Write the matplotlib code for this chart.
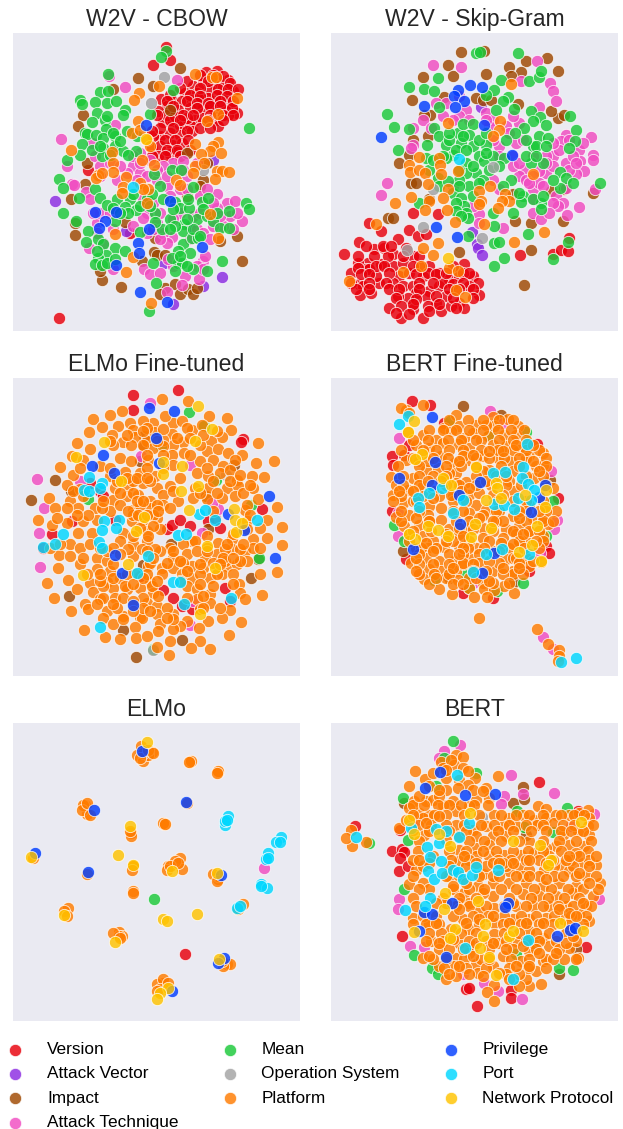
import matplotlib
matplotlib.use('Agg')
import matplotlib.pyplot as plt

plt.rcParams['font.family'] = ['Liberation Sans', 'DejaVu Sans']

CATEGORIES = ['Version', 'Attack Vector', 'Impact', 'Attack Technique', 'Mean',
              'Operation System', 'Platform', 'Privilege', 'Port', 'Network Protocol']
COLORS = ['#e8000b', '#8b2be2', '#9f4800', '#f14cc1', '#1ac938',
          '#a3a3a3', '#ff7c00', '#023eff', '#00d7ff', '#ffc400']
TITLES = ['W2V - CBOW', 'W2V - Skip-Gram', 'ELMo Fine-tuned', 'BERT Fine-tuned', 'ELMo', 'BERT']

# all points, in x/y units of a 3x crop of each panel
cbow_version = [(497,143),(509,182),(459,196),(652,215),(619,218),(685,240),(655,235),(580,258),(610,250),(640,250),(670,262),(700,275),(555,280),(590,280),(630,272),(665,290),(482,298),(515,300),(545,305),(575,300),(610,300),(640,305),(690,310),(710,340),(675,330),(645,330),(610,325),(570,325),(535,330),(500,320),(475,335),(490,368),(520,365),(555,375),(585,360),(605,355),(650,360),(685,345),(655,380),(540,375),(570,375),(480,410),(510,400),(540,405),(575,395),(460,410),(455,445),(480,440),(515,435),(545,430),(475,468),(510,462),(530,458),(560,355),(500,345),(525,350),(550,345),(625,295),(595,295),(265,512),(390,700),(177,955),
 (600,225),(640,225),(670,228),(560,245),(625,245),(690,250),(540,265),(600,265),(655,268),(685,268),(715,268),(510,285),(570,285),(600,288),(650,285),(680,288),(500,305),(560,305),(590,310),(625,310),(660,305),(700,305),(520,320),(590,325),(630,320),(660,320),(695,325),(470,345),(580,345),(630,345),(670,345),(700,345),(510,360),(540,360),(625,360),(670,360),(480,385),(520,385),(600,385),(630,385),(455,395),(560,395),(495,420),(525,420),(565,420),(500,450),(530,450),(570,450),(455,470),(495,470),(540,470)]
cbow_vector = [(166,605),(640,480),(377,695),(491,790),(610,860),(666,833),(518,913),(570,680)]
cbow_impact = [(541,205),(413,236),(340,268),(460,258),(250,347),(233,378),(510,330),(560,460),(262,490),(255,555),(212,600),(225,670),(225,708),(375,668),(465,715),(462,757),(472,768),(495,768),(425,785),(710,710),(660,725),(725,785),(305,842),(362,862),(495,865),(525,855),(480,885),(540,885),(565,870),(580,885),(590,865),(300,815),(610,540),(620,490),(560,590),(600,560)]
cbow_technique = [(375,263),(531,241),(182,417),(328,230),(345,375),(275,430),(285,470),(200,500),(215,555),(222,557),(258,578),(270,598),(300,500),(400,500),(420,520),(440,530),(520,490),(550,485),(490,500),(590,490),(420,460),(400,470),(470,540),(500,560),(540,570),(510,590),(560,570),(600,590),(650,585),(620,570),(680,610),(705,605),(650,625),(725,665),(690,650),(700,690),(670,680),(640,680),(590,690),(610,700),(515,712),(490,700),(470,670),(440,640),(430,655),(400,680),(290,670),(290,700),(268,745),(310,730),(338,810),(432,808),(450,825),(520,800),(505,780),(610,785),(615,770),(598,838),(555,830),(545,858),(500,878),(460,610),(350,540),(300,530),(330,490),(380,520),(360,500),(540,640),(480,640),(580,650),
 (450,480),(470,510),(410,540),(430,600),(500,530),(560,530),(520,660),(600,640),(640,610),(660,650),(710,640),(570,720),(500,730),(480,720),(300,640),(280,640),(340,690),(330,640),(420,490),(550,510),(630,720),(590,800),(480,820),(610,810),(440,700),(460,690)]
cbow_mean = [(746,386),(325,224),(497,155),(482,172),(520,272),(450,343),(300,278),(325,275),(240,300),(245,312),(285,308),(320,310),(348,305),(375,330),(370,345),(292,340),(275,366),(315,362),(320,350),(318,388),(255,400),(262,403),(245,432),(288,407),(310,415),(345,410),(380,395),(240,465),(200,482),(310,445),(345,440),(370,455),(408,455),(305,470),(385,465),(178,537),(188,566),(236,597),(285,570),(300,597),(320,618),(352,600),(390,600),(375,622),(407,632),(385,640),(465,640),(440,600),(480,560),(462,522),(515,510),(543,510),(580,562),(605,607),(625,595),(525,608),(540,625),(568,627),(590,658),(620,650),(640,665),(688,635),(660,685),(688,687),(510,660),(553,675),(550,695),(485,688),(465,668),(420,698),(345,665),(188,642),(228,665),(265,695),(257,727),(295,718),(310,735),(345,747),(375,755),(318,767),(295,775),(285,795),(305,798),(458,790),(550,735),(535,755),(570,762),(535,790),(545,790),(580,810),(622,815),(525,815),(665,784),(468,852),(447,935),(738,612),(748,630),(577,715),(595,715),
 (340,400),(360,425),(330,465),(410,410),(275,450),(300,440),(420,620),(400,585),(340,625),(455,585),(490,600),(520,630),(565,600),(650,640),(610,630),(580,690),(525,680),(560,660),(450,620),(360,640),(290,755),(320,790),(345,780),(515,775),(540,770),(560,800),(600,710),(510,690)]
cbow_os = [(453,310),(492,232),(610,510)]
cbow_platform = [(585,222),(635,232),(648,232),(478,260),(416,280),(403,300),(710,295),(655,342),(622,365),(415,365),(395,400),(440,420),(420,390),(450,440),(585,432),(655,427),(640,440),(630,455),(662,460),(603,462),(585,500),(580,520),(612,490),(650,515),(665,515),(688,518),(645,538),(212,450),(335,458),(340,490),(340,517),(295,525),(288,535),(305,520),(427,480),(462,497),(378,533),(370,562),(365,580),(420,550),(445,570),(430,570),(442,612),(527,540),(540,557),(630,645),(345,705),(655,716),(400,772),(378,817),(452,910)]
cbow_privilege = [(439,376),(510,606),(284,639),(348,637),(315,664),(297,687),(446,689),(413,730),(417,761),(605,742),(347,797),(420,879),(500,908)]
cbow_port = [(398,563)]
cbow_protocol = [(438,418)]

skip_version = [(95,765),(140,727),(185,750),(215,745),(255,718),(240,765),(290,692),(315,710),(340,705),(300,640),(377,645),(165,790),(135,790),(160,810),(115,820),(140,855),(150,860),(200,850),(170,810),(205,795),(240,800),(270,790),(300,770),(260,830),(290,820),(240,850),(270,860),(300,860),(330,830),(350,875),(380,860),(410,840),(440,830),(455,795),(480,830),(495,850),(470,860),(440,910),(400,890),(370,910),(340,890),(310,880),(285,895),(255,890),(230,925),(265,955),(300,930),(330,955),(385,935),(415,920),(455,925),(500,888),(143,888),(175,880),(350,800),(380,820),(420,800),(390,850),(320,800),(225,770),(190,830),(115,850),(205,695),(170,670),(622,768),(720,765),(745,752),(768,715),(765,755),
 (160,740),(210,740),(235,740),(280,745),(135,770),(185,770),(270,770),(320,770),(135,805),(190,800),(215,800),(300,800),(145,825),(170,825),(230,820),(310,825),(345,820),(370,825),(400,820),(450,820),(470,820),(170,850),(220,850),(320,850),(360,850),(420,855),(450,850),(130,870),(170,870),(230,870),(260,870),(320,870),(410,870),(440,870),(480,870),(250,895),(310,900),(370,890),(420,895),(480,895),(265,920),(300,915),(345,920),(430,925),(250,940),(290,945),(350,935),(380,915)]
skip_vector = [(505,322),(492,735),(497,745),(507,766),(478,697)]
skip_impact = [(445,156),(515,155),(405,196),(332,231),(420,230),(297,300),(702,175),(640,185),(735,213),(590,202),(625,218),(595,228),(520,222),(395,292),(490,295),(510,300),(535,300),(615,312),(353,345),(335,345),(735,355),(715,335),(755,345),(225,655),(258,490),(290,465),(295,550),(310,550),(300,420),(440,758),(655,753),(633,856),(750,664),(655,672),(608,666),(840,582),(715,575),(755,570),(350,600),(600,585),(345,410),(240,655)]
skip_technique = [(360,195),(445,203),(672,185),(712,250),(720,275),(730,305),(625,245),(370,310),(330,360),(300,435),(295,445),(224,551),(204,586),(400,310),(460,330),(520,340),(540,360),(580,380),(620,370),(680,322),(835,411),(800,450),(840,465),(842,480),(803,485),(815,515),(790,522),(760,405),(745,425),(720,470),(760,490),(700,520),(660,570),(630,510),(620,530),(600,470),(560,440),(540,420),(760,565),(730,590),(750,610),(800,622),(762,648),(735,620),(660,640),(686,658),(570,686),(498,645),(420,560),(847,570),(300,385),(355,385),(700,470),(680,515),(660,530),(610,430),(590,400),(530,380),(440,350),(420,360),
 (560,470),(600,500),(640,540),(680,550),(720,500),(780,470),(770,510),(740,450),(700,490),(650,550),(620,490),(690,560),(720,610),(660,600),(710,640),(790,490),(810,430),(770,420),(720,430),(660,470),(540,540),(560,570),(480,620),(500,670),(390,350),(440,290),(520,360),(600,350),(470,360),(630,420)]
skip_mean = [(615,160),(490,161),(503,158),(375,235),(290,263),(333,268),(365,275),(565,240),(650,244),(680,232),(685,215),(545,270),(520,285),(585,292),(572,305),(603,328),(550,330),(378,323),(222,343),(245,381),(288,387),(655,335),(682,352),(700,375),(773,350),(790,390),(788,425),(768,445),(660,365),(635,385),(608,400),(255,450),(343,437),(365,385),(378,408),(400,435),(435,400),(450,372),(482,372),(470,405),(445,430),(480,440),(520,437),(500,470),(420,465),(460,490),(490,520),(515,485),(460,520),(510,540),(440,540),(375,535),(350,510),(420,580),(445,595),(470,560),(540,470),(575,475),(680,410),(660,440),(705,415),(670,440),(690,490),(655,490),(742,517),(760,535),(780,552),(743,565),(863,550),(595,540),(630,590),(625,608),(685,612),(685,628),(600,640),(455,620),(460,640),(465,655),(540,640),(545,680),(465,710),(645,703),(545,730),(560,728),(575,775),(543,800),(722,780),(765,727),(318,612),
 (410,420),(430,450),(460,450),(500,420),(520,460),(400,475),(440,510),(480,500),(530,510),(560,500),(380,560),(405,545),(440,560),(480,590),(430,610),(500,550),(570,560),(620,580),(660,600),(690,590),(640,470),(670,470),(700,440),(720,540),(640,420),(580,420),(520,400),(450,410),(410,400),(390,470),(340,475),(360,480),(430,635),(445,650)]
skip_os = [(330,683),(283,753),(507,716),(360,568),(541,503)]
skip_platform = [(595,253),(563,363),(560,390),(540,410),(405,370),(320,472),(290,495),(292,518),(320,510),(338,520),(378,475),(382,495),(386,522),(345,553),(435,514),(660,523),(405,568),(390,595),(500,575),(295,592),(248,610),(348,605),(338,632),(403,632),(505,605),(500,615),(533,560),(578,583),(590,605),(568,605),(555,625),(427,668),(515,673),(190,675),(605,727),(695,698),(330,745),(375,730),(360,768),(325,800),(272,817),(410,805),(110,845),(430,873),(458,892),(435,815)]
skip_privilege = [(473,255),(507,261),(437,272),(423,290),(453,304),(426,322),(334,318),(514,375),(206,412),(597,467),(370,682),(432,712)]
skip_port = [(440,478)]
skip_protocol = [(407,775)]

elmoft_version = [(400,152),(534,137),(400,196),(728,283),(722,293),(785,493),(155,570),(215,530),(345,525),(300,440),(310,455),(500,555),(515,540),(540,525),(570,545),(625,530),(645,520),(660,550),(490,738),(520,760),(545,785),(575,795),(675,730),(690,770),(420,695),(130,610),(270,415)]
elmoft_impact = [(92,467),(432,275),(432,305),(420,350),(625,553),(430,662),(407,937),(208,755),(752,702),(702,362),(618,455),(512,598),(370,857),(545,888),(773,643),(165,405),(213,438)]
elmoft_technique = [(110,404),(131,490),(118,565),(121,667),(424,333),(450,175),(240,410),(605,567),(655,492),(570,360),(635,475),(570,842),(580,770)]
elmoft_mean = [(567,203),(612,245),(483,303),(265,463),(648,407),(752,480),(460,915),(777,640)]
elmoft_os = [(678,390),(460,918)]
elmoft_platform = [(485,162),(563,170),(365,198),(331,210),(627,214),(280,224),(680,220),(520,235),(495,215),(460,235),(430,230),(390,235),(545,230),(575,255),(605,240),(355,245),(307,248),(267,262),(693,257),(665,277),(400,255),(463,262),(515,268),(632,290),(550,292),(520,300),(490,285),(440,290),(405,278),(368,292),(335,272),(232,296),(773,296),(270,312),(392,300),(460,310),(515,330),(553,325),(620,320),(653,313),(685,325),(725,330),(768,354),(822,350),(180,367),(217,335),(250,345),(300,365),(360,340),(392,350),(445,345),(520,360),(600,350),(640,345),(670,365),(705,345),
 (218,390),(330,395),(375,382),(420,385),(465,395),(540,400),(590,385),(625,395),(660,385),(710,405),(755,395),(793,397),(200,420),(240,432),(345,430),(385,425),(430,415),(470,430),(510,425),(585,430),(625,430),(680,430),(715,425),(760,430),
 (147,460),(210,470),(250,455),(340,465),(380,455),(415,450),(450,468),(490,450),(580,460),(620,462),(665,460),(705,455),(775,462),(165,490),(235,490),(285,490),(330,500),(400,497),(450,490),(490,480),(535,470),(640,500),(735,495),(830,488),
 (115,527),(200,535),(250,530),(290,525),(395,530),(430,525),(470,520),(740,530),(800,525),(155,540),(235,565),(275,565),(370,565),(440,560),(480,555),(575,590),(655,595),(695,585),(760,585),(800,580),(845,548),
 (210,598),(240,610),(360,590),(400,600),(440,590),(510,610),(550,600),(585,590),(695,615),(845,603),(178,632),(210,635),(290,640),(320,650),(400,635),(480,620),(520,640),(560,630),(615,640),(650,630),(735,620),(760,610),
 (175,670),(240,660),(290,675),(330,680),(445,665),(485,670),(520,670),(575,665),(610,672),(680,665),(710,660),(740,650),(780,688),(832,684),(140,717),(203,707),(270,715),(320,712),(360,700),(405,690),(450,712),(485,690),(575,700),(630,700),(665,690),(718,720),
 (232,735),(280,742),(340,730),(380,735),(420,730),(460,745),(560,725),(590,735),(630,748),(720,745),(162,762),(255,778),(300,765),(345,760),(440,775),(470,785),(590,765),(630,775),(735,763),(785,752),(213,801),(265,793),(320,800),(370,815),(420,818),(470,810),(520,810),(560,830),(625,830),(690,797),(310,820),(426,820),(480,840),(540,845),(665,822),(723,833),(253,856),(405,847),(475,860),(520,855),
 (316,878),(360,885),(408,882),(442,876),(510,890),(600,890),(686,873),(470,908),(572,911),(631,914),(507,933),(338,840),(597,852),
 (440,250),(490,252),(560,250),(340,300),(430,300),(490,305),(600,300),(440,330),(490,330),(570,330),(240,370),(330,370),(440,370),(490,370),(620,370),(690,375),(400,410),(450,410),(640,410),(690,410),(360,445),(400,445),(520,440),(600,445),(650,445),(730,445),(360,480),(420,480),(470,480),(740,480),(400,510),(460,510),(750,510),(420,550),(460,545),(740,555),(780,550),(400,575),(445,575),(620,575),(700,570),(385,615),(425,615),(465,615),(620,612),(675,615),(720,615),(450,655),(500,655),(550,655),(640,655),(675,650),(720,650),(380,690),(440,690),(545,690),(600,690),(650,690),(700,690),(310,725),(375,725),(455,725),(600,720),(640,725),(310,760),(370,760),(430,760),(475,755),(610,755),(350,790),(430,790),(500,790),(600,795),(520,825),(370,825),
 (410,470),(430,470),(385,500),(415,510),(440,510),(475,500),(510,490),(380,400),(410,400),(440,400),(350,410),(305,490),(310,470),(265,510),(230,510),(270,600),(320,620),(340,610),(360,630),(440,620),(460,640),(520,620),(540,650),(590,620),(620,620),(670,640),(700,640),(680,600),(730,600),(780,610),(300,710),(300,690),(340,700),(290,780),(340,780),(400,770),(400,800),(450,800),(500,820),(560,760),(610,790),(660,790),(700,720),(660,660),(600,660),(560,680),(540,710),(470,710),(430,700),(400,720),(530,280),(570,280),(610,270),(470,290),(430,260),(380,270),(330,290),(650,260),(720,390),(750,420),(220,440),(200,490),(170,520),(150,610),(180,600),(250,640),(260,690),(340,660),(300,610)]
elmoft_privilege = [(446,189),(523,200),(468,280),(308,331),(277,365),(342,385),(476,355),(806,454),(683,509),(733,558),(825,641),(346,631),(365,685),(398,782)]
elmoft_port = [(266,398),(253,435),(268,438),(305,415),(300,430),(312,528),(358,525),(305,557),(348,550),(296,592),(306,612),(445,636),(412,686),(518,714),(540,712),(535,572),(558,570),(598,507),(615,497),(645,525),(770,525),(692,762),(553,778),(299,847),(166,599),(189,570),(128,607)]
elmoft_protocol = [(593,183),(636,252),(312,291),(227,338),(585,288),(490,353),(545,365),(490,388),(364,410),(595,424),(544,438),(568,496),(432,517),(407,561),(620,606),(383,658),(249,692),(644,671),(599,810),(702,493),(706,527),(708,562),(725,535)]

bertft_version = [(297,170),(352,180),(237,333),(240,360),(275,332),(672,297),(737,460),(238,498),(700,605),(708,625),(280,645),(450,745),(540,760),(290,300),(650,680),(395,235)]
bertft_impact = [(450,184),(565,212),(270,620),(410,700),(605,712),(620,595),(712,405)]
bertft_technique = [(533,198),(258,280),(715,379),(255,575),(315,685),(725,555),(732,527),(690,878),(682,625),(570,235),(255,505),(720,915),(480,715)]
bertft_mean = [(412,228),(640,262),(243,541),(275,590),(460,690),(632,717),(700,575),(365,708),(470,730),(552,740),(720,470),(530,270)]
bertft_platform = [(280,195),(265,190),(290,205),(330,180),(285,262),(430,210),(540,218),(585,222),(615,243),(490,240),(545,245),(520,240),(395,250),(440,245),(330,270),(370,285),(415,260),(480,265),(525,275),(575,270),(610,270),(455,280),(505,285),(310,300),(350,310),(390,295),(435,297),(470,310),(540,300),(580,305),(620,315),(650,330),(690,325),(280,345),(320,350),(385,335),(425,355),(470,345),(510,335),(555,340),(595,350),(640,340),(670,365),(235,396),(300,400),(340,375),(375,370),(430,385),(460,412),(530,375),(600,380),(665,400),(690,360),(330,425),(430,415),(510,380),(590,410),(605,440),(240,450),(285,437),(380,455),(470,450),(500,445),(600,470),(270,476),(350,485),(385,490),(490,480),(520,495),(250,517),(290,510),(345,512),(385,525),(470,505),(510,510),(600,515),(660,520),(730,500),(275,545),(320,540),(410,555),(510,550),(620,545),(705,538),(580,555),(330,575),(360,590),(440,570),(510,580),(570,580),(610,570),(690,575),(345,610),(395,607),(440,605),(490,610),(590,610),(640,590),(295,657),(340,640),(380,650),(425,650),(470,640),(580,645),(640,640),(350,675),(385,680),(430,680),(540,680),(600,680),(650,665),(335,703),(400,700),(435,707),(510,715),(575,725),(600,690),(380,733),(470,730),(515,735),(545,738),(603,745),(417,750),(485,758),(522,758),(498,820),(672,855),(705,900),(738,918),(740,935),(735,950),(345,350),(410,385),(300,470),(560,500),(600,640),(540,620),(460,550),(450,660),(360,440),(290,570),(310,610),(685,652),(650,480),(690,520),(700,420),(650,560),(720,430),
 (410,225),(465,225),(510,225),(560,225),(600,225),(350,255),(390,255),(430,255),(470,255),(510,255),(555,255),(595,255),(635,255),(300,285),(345,285),(405,285),(445,285),(490,285),(560,285),(600,285),(640,285),(265,315),(330,315),(370,315),(410,315),(450,315),(505,315),(555,315),(600,315),(640,315),(680,315),(300,340),(360,340),(405,340),(450,335),(490,340),(530,340),(575,340),(620,340),(700,340),(255,365),(320,365),(400,365),(445,365),(490,365),(565,365),(620,365),(700,365),(270,395),(320,395),(360,395),(400,395),(490,395),(550,395),(640,395),(690,395),(250,420),(270,420),(320,420),(400,420),(440,420),(490,420),(535,420),(580,420),(625,420),(265,455),(330,455),(420,455),(445,440),(540,450),(570,450),(240,470),(310,470),(420,470),(460,470),(555,470),(640,470),(690,470),(320,500),(420,500),(450,500),(550,500),(640,500),(700,500),(265,530),(350,530),(430,530),(470,530),(550,530),(570,530),(640,530),(690,530),(720,530),(300,560),(355,560),(440,550),(480,555),(540,560),(600,560),(650,560),(680,560),(290,590),(420,590),(470,590),(530,590),(620,590),(690,590),(325,610),(370,610),(465,610),(515,610),(565,595),(635,610),(680,610),(320,630),(410,630),(450,630),(500,630),(610,640),(660,650),(320,660),(360,660),(410,660),(450,655),(500,655),(560,655),(620,655),(320,690),(365,690),(410,690),(470,700),(570,690),(630,690),(350,720),(420,720),(450,720),(540,715),(590,715),
 (360,460),(310,520),(415,450),(470,430),(520,410),(580,395),(620,500),(620,520),(680,500),(500,520),(540,530),(450,575),(400,570),(400,590),(340,595),(310,640),(360,620),(450,610),(560,620),(600,600),(630,570),(670,590),(530,650),(520,680),(570,670),(620,670),(440,630),(480,660),(480,680),(490,700),(530,710),(420,670),(370,700),(310,680),(350,530),(260,440),(300,440),(265,500),(345,410),(385,410),(440,350),(480,330),(530,320),(570,320),(610,300),(660,300),(660,350),(680,380)]
bertft_privilege = [(359,217),(367,351),(260,401),(503,411),(357,422),(438,452),(698,422),(680,456),(656,503),(443,537),(300,615),(545,627),(509,686)]
bertft_port = [(287,214),(258,237),(642,299),(541,384),(577,381),(632,367),(628,400),(388,429),(350,446),(316,459),(319,487),(450,466),(422,504),(543,478),(573,481),(603,493),(647,418),(665,436),(617,459),(655,465),(568,614),(520,630),(650,628),(481,682),(745,953),(789,942)]
bertft_protocol = [(303,228),(286,262),(328,327),(306,343),(491,368),(392,399),(414,422),(549,414),(552,431),(520,466),(565,459),(638,450),(697,486),(699,435),(347,544),(377,557),(486,539),(534,550),(306,583),(406,574),(474,579),(659,601),(618,624),(672,545),(685,651),(290,570)]

elmo_version = [(554,794)]
elmo_technique = [(791,536)]
elmo_mean = [(461,629)]
elmo_platform = [(422,170),(455,188),(412,195),(430,213),(445,195),(571,217),(655,248),(255,347),(262,372),(491,402),(392,430),(398,528),(540,504),(545,538),(505,530),(398,605),(204,655),(358,727),(367,740),(680,825),(655,570),(490,880),(470,885),(730,645),(490,900),
 (430,190),(420,205),(445,180),(460,190),(250,345),(245,360),(270,375),(260,340),(572,215),(567,218),(655,245),(488,400),(495,403),(392,438),(390,425),(400,530),(395,540),(525,515),(500,540),(510,530),(535,520),(655,560),(640,555),(650,575),(192,665),(200,680),(358,740),(340,730),(360,745),(690,825),(670,830),(665,815),(490,870),(480,900),(505,880),(470,905),(715,660),(260,555),(100,505),(398,610),(560,340),(650,250)]
elmo_privilege = [(426,184),(281,360),(558,338),(105,491),(263,547),(662,556),(672,805),(655,822),(515,905)]
elmo_port = [(683,380),(675,405),(843,441),(827,458),(840,458),(805,490),(798,508),(782,583),(800,597),(710,655),(720,650),(675,395),(680,390),(805,505),(782,590)]
elmo_protocol = [(440,157),(391,409),(354,497),(94,501),(400,527),(517,543),(652,550),(191,678),(489,688),(502,696),(592,675),(344,757),(657,810),(505,895),(480,912),(472,928)]

bert_version = [(128,410),(680,277),(238,483),(268,478),(275,488),(262,505),(260,543),(285,530),(268,739),(820,773),(460,899),(470,895),(596,903),(595,925),(492,950),(262,420),(795,365),(480,770)]
bert_impact = [(630,293),(600,340),(635,328),(790,778),(738,855),(275,340),(640,435)]
bert_technique = [(443,165),(395,185),(380,205),(596,257),(725,310),(632,313),(573,320),(565,342),(258,630),(255,660),(292,770),(335,773),(629,929),(555,905),(450,855),(860,630),(845,372),(775,410),(310,390),(515,880)]
bert_mean = [(422,155),(395,205),(270,324),(612,365),(764,356),(635,412),(275,600),(303,796),(358,836),(375,855),(740,835),(782,842),(285,450),(370,290),(720,428),(490,250),(610,795),(170,460)]
bert_os = [(507,383)]
bert_platform = [(430,195),(450,203),(385,218),(425,225),(450,235),(308,243),(337,268),(400,265),(440,270),(488,265),(555,259),(290,290),(400,300),(520,295),(465,285),(305,335),(340,335),(360,332),(420,335),(490,330),(530,325),(390,345),(677,350),(700,358),(825,362),(470,350),(320,370),(350,375),(430,365),(545,375),(590,385),(632,377),(665,390),(700,385),(730,375),(770,375),(800,370),(830,385),(260,415),(330,385),(430,405),(480,420),(520,410),(570,410),(610,410),(672,405),(725,400),(795,425),(825,410),(115,422),(160,456),(117,470),(100,445),(335,435),(440,440),(490,440),(540,440),(580,440),(650,455),(750,435),(830,435),(815,468),(770,465),(730,470),(440,480),(490,475),(530,465),(575,495),(625,495),(665,490),(700,475),(790,490),(310,540),(440,515),(490,500),(530,500),(620,535),(650,540),(695,540),(745,525),(810,520),(850,525),(290,585),(330,580),(410,560),(510,555),(590,545),(770,545),(820,560),(862,582),(495,590),(540,580),(590,580),(640,580),(690,590),(740,580),(790,590),(840,620),(350,600),(455,610),(540,620),(630,615),(680,620),(730,620),(780,610),(820,650),(300,685),(440,640),(500,665),(545,655),(610,650),(660,650),(710,650),(760,650),(800,675),(830,695),(350,705),(450,690),(545,700),(600,690),(650,690),(700,685),(750,690),(415,720),(470,720),(545,735),(650,725),(690,745),(760,730),(355,755),(440,760),(555,760),(610,755),(710,770),(770,775),(797,805),(330,805),(430,805),(470,790),(570,800),(650,785),(690,815),(755,808),(660,760),(490,825),(425,830),(540,830),(625,815),(670,845),(700,810),(400,868),(430,860),(495,850),(545,888),(650,890),(685,884),(522,907),(545,935),(380,830),(640,870),(290,355),(280,390),(360,500),(390,235),(300,420),(380,320),(600,640),(470,640),(510,610),(710,500),
 (300,345),(335,345),(375,345),(410,345),(445,345),(485,345),(525,345),(300,375),(365,375),(400,375),(455,375),(500,375),(565,375),(610,375),(650,375),(690,375),(745,375),(785,375),(815,375),(315,405),(355,405),(400,405),(455,405),(505,405),(545,405),(590,405),(640,405),(690,405),(750,405),(785,405),(840,405),(350,425),(410,425),(460,425),(555,425),(600,425),(655,425),(700,425),(745,425),(775,425),(810,425),(320,455),(470,455),(515,455),(565,455),(620,455),(690,455),(740,455),(790,455),(835,455),(315,485),(410,485),(460,485),(510,485),(550,485),(600,485),(645,485),(690,485),(745,485),(825,485),(300,510),(415,510),(470,510),(555,510),(595,510),(640,510),(680,510),(775,510),(830,510),(330,530),(410,530),(460,530),(520,530),(580,530),(725,530),(780,530),(830,530),(300,560),(400,560),(440,560),(540,560),(560,560),(630,560),(680,560),(725,560),(790,560),(850,560),(320,600),(420,600),(470,600),(515,600),(565,600),(610,600),(665,600),(715,600),(765,600),(810,600),(855,600),(300,625),(390,625),(440,625),(490,625),(590,625),(655,625),(705,625),(755,625),(800,625),(310,650),(430,650),(470,650),(520,650),(575,650),(640,650),(690,650),(735,650),(780,650),(835,650),(330,680),(370,680),(420,680),(480,680),(525,680),(575,680),(625,680),(670,680),(725,680),(775,680),(820,680),(300,705),(340,705),(380,705),(500,705),(570,705),(625,705),(680,705),(720,705),(770,705),(810,705),(350,730),(385,730),(445,730),(490,730),(575,730),(620,730),(670,730),(710,730),(790,730),(340,755),(390,755),(470,755),(520,755),(580,755),(640,755),(680,755),(730,755),(790,755),(380,780),(410,780),(530,780),(600,780),(670,780),(740,780),(360,810),(400,810),(455,810),(505,810),(595,810),(650,810),(720,810),(790,810),(395,835),(460,835),(520,835),(590,835),(645,835),(700,835),(410,855),(470,855),(580,855),(620,855),
 (360,250),(415,210),(400,240),(465,245),(435,295),(350,290),(320,320),(380,300),(480,300),(510,305),
 (350,520),(340,400),(380,380),(320,510),(400,450),(455,500),(490,520),(540,520),(570,520),(600,520),(650,510),(700,520),(720,510),(760,510),(800,500),(850,500),(770,500),(500,560),(560,520),(610,560),(650,560),(700,570),(750,560),(800,550),(830,580),(460,580),(420,590),(400,640),(370,640),(370,700),(440,660),(460,700),(500,690),(540,680),(590,700),(640,700),(690,700),(740,660),(770,670),(810,640),(790,680),(380,760),(420,750),(450,780),(490,760),(540,760),(580,780),(630,770),(680,790),(730,790),(760,760),(780,740),(350,800),(440,830),(560,850),(610,830),(480,800),(530,810),(650,830),(510,860),(590,870),(620,890)]
bert_privilege = [(381,247),(337,295),(548,313),(458,317),(419,642),(585,642),(577,654),(333,668),(358,675),(320,725),(732,741),(772,721),(787,717),(400,802)]
bert_port = [(131,441),(433,257),(470,399),(295,415),(370,417),(400,425),(438,443),(343,472),(378,460),(352,503),(385,515),(346,544),(365,568),(388,552),(420,540),(435,547),(450,568),(477,557),(490,533),(556,540),(353,627),(338,650),(276,663),(457,776),(645,753),(601,868)]
bert_protocol = [(289,390),(472,369),(303,433),(378,434),(413,470),(601,454),(681,467),(806,397),(716,512),(706,527),(397,612),(497,636),(395,658),(517,703),(741,702),(811,725),(428,720),(304,729),(413,745),(510,739),(590,740),(600,725),(502,777),(528,802),(551,856)]

cbow = [cbow_version, cbow_vector, cbow_impact, cbow_technique, cbow_mean, cbow_os, cbow_platform, cbow_privilege, cbow_port, cbow_protocol]
skip = [skip_version, skip_vector, skip_impact, skip_technique, skip_mean, skip_os, skip_platform, skip_privilege, skip_port, skip_protocol]
elmoft = [elmoft_version, [], elmoft_impact, elmoft_technique, elmoft_mean, elmoft_os, elmoft_platform, elmoft_privilege, elmoft_port, elmoft_protocol]
bertft = [bertft_version, [], bertft_impact, bertft_technique, bertft_mean, [], bertft_platform, bertft_privilege, bertft_port, bertft_protocol]
elmo = [elmo_version, [], [], elmo_technique, elmo_mean, [], elmo_platform, elmo_privilege, elmo_port, elmo_protocol]
bert = [bert_version, [], bert_impact, bert_technique, bert_mean, bert_os, bert_platform, bert_privilege, bert_port, bert_protocol]
panels = [cbow, skip, elmoft, bertft, elmo, bert]

W, H = 623, 1129
LEFTS = [13, 331]
TOPS = [33, 378, 723]
PW, PH = 287, 298

fig = plt.figure(figsize=(W / 100, H / 100), dpi=100)
handles = []
for i, groups in enumerate(panels):
    left = LEFTS[i % 2]
    top = TOPS[i // 2]
    ax = fig.add_axes([left / W, 1 - (top + PH) / H, PW / W, PH / H])
    ax.set_facecolor('#eaeaf2')
    for spine in ax.spines.values():
        spine.set_visible(False)
    ax.set_xticks([])
    ax.set_yticks([])
    for pts, name, col in zip(groups, CATEGORIES, COLORS):
        if not pts:
            continue
        xs = [p[0] for p in pts]
        ys = [p[1] for p in pts]
        sc = ax.scatter(xs, ys, s=78, c=col, alpha=0.82, edgecolors='white', linewidths=0.6, label=name)
        if i == 0:
            handles.append(sc)
    # crop units of the panel edges
    x0 = 39 if i % 2 == 0 else 55
    ax.set_xlim(x0, x0 + 861)
    ax.set_ylim(995, 100)
    ax.set_title(TITLES[i], fontsize=16.6, color='#262626', pad=5)

fig.legend(handles, CATEGORIES, loc='upper left', bbox_to_anchor=(-0.003, 1 - 1042 / H), ncol=3,
           frameon=False, fontsize=12.4, labelspacing=0.54, handletextpad=0.85, columnspacing=1.95,
           borderaxespad=0, borderpad=0)

fig.savefig('out.png', dpi=100)
